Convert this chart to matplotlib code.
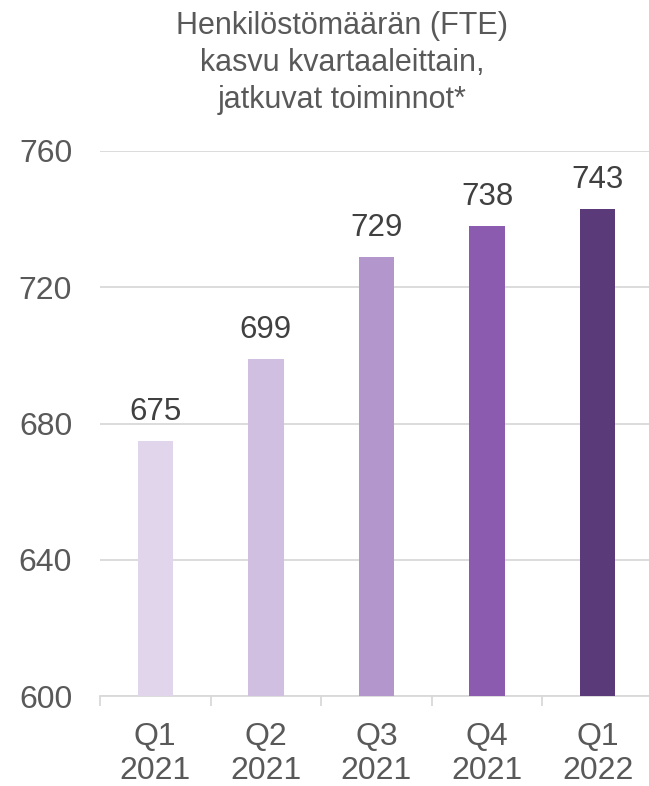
import matplotlib
matplotlib.use("Agg")
import matplotlib.pyplot as plt

categories = ["Q1\n2021", "Q2\n2021", "Q3\n2021", "Q4\n2021", "Q1\n2022"]
values = [675, 699, 729, 738, 743]
colors = ["#E0D5EA", "#D1BFE2", "#B396CC", "#8A5BAF", "#5A3A78"]
yticks = [600, 640, 680, 720, 760]
title = "Henkilöstömäärän (FTE)\nkasvu kvartaaleittain,\njatkuvat toiminnot*"

plt.rcParams['font.family'] = ['Liberation Sans', 'DejaVu Sans']
text_color = "#595959"

W, H = 649, 786
fig = plt.figure(figsize=(W / 100, H / 100), dpi=100)
left = 100 / W
right = 653 / W
bottom = 1 - 696 / H
top = 1 - 151 / H
ax = fig.add_axes([left, bottom, right - left, top - bottom])

x = list(range(len(values)))
ax.bar(x, [v - 600 for v in values], bottom=600, width=0.32, color=colors, zorder=3)
for xi, v in zip(x, values):
    ax.annotate(str(v), (xi, v), xytext=(0, 10), textcoords="offset points",
                ha="center", va="bottom", fontsize=22.5, color="#404040")

ax.set_ylim(600, 760)
ax.set_xlim(-0.5, 4.5)
ax.set_yticks(yticks)
ax.set_yticklabels([str(t) for t in yticks], fontsize=23, color=text_color)
ax.yaxis.grid(True, color="#D9D9D9", linewidth=1.3, zorder=0)
ax.set_axisbelow(True)
ax.tick_params(axis="y", length=0, pad=20)

ax.set_xticks(x)
ax.set_xticklabels(categories, fontsize=23, color=text_color, linespacing=1.15)
ax.set_xticks([i - 0.5 for i in range(len(values) + 1)], minor=True)
ax.tick_params(axis="x", which="major", length=0, pad=19)
ax.tick_params(axis="x", which="minor", length=7, width=1.3, color="#D9D9D9")

for s in ["top", "right", "left"]:
    ax.spines[s].set_visible(False)
ax.spines["bottom"].set_color("#D9D9D9")
ax.spines["bottom"].set_linewidth(1.3)

fig.text(342 / W, 1 - 63 / H, title, ha="center", va="center", fontsize=22,
         color=text_color, linespacing=1.3)

fig.savefig("out.png", dpi=100)
